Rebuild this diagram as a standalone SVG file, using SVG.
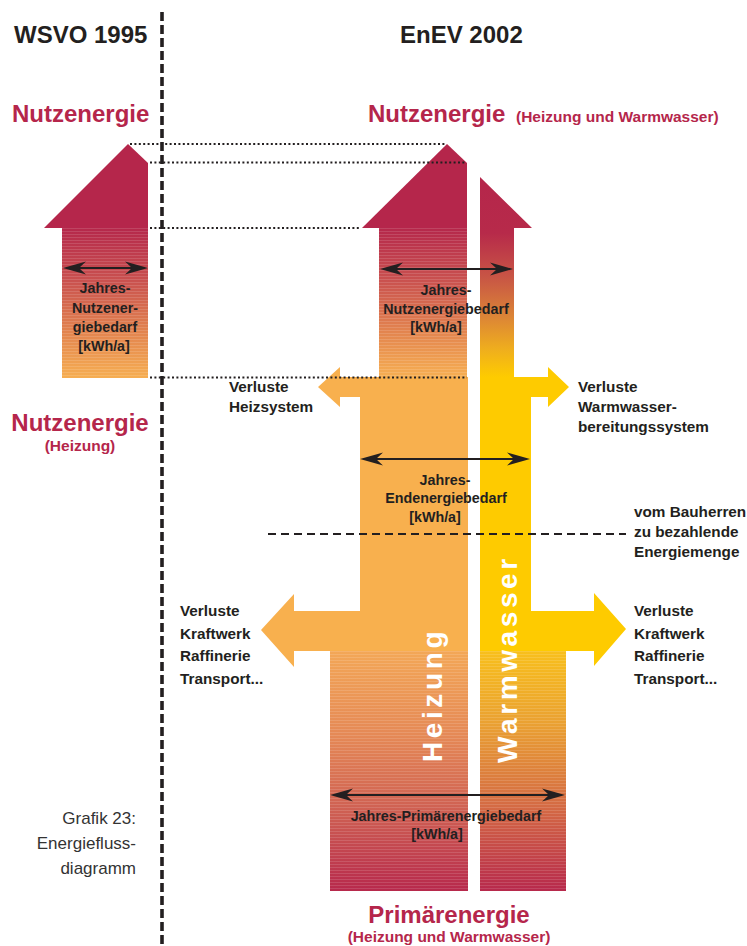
<svg xmlns="http://www.w3.org/2000/svg" width="747" height="946" viewBox="0 0 747 946">
<defs>
<style>
text{font-family:"Liberation Sans",Arial,sans-serif;}
.hd{font-size:24px;font-weight:bold;fill:#231f20;}
.cr{font-size:24px;font-weight:bold;fill:#b5264b;}
.crs{font-size:15.5px;font-weight:bold;fill:#b5264b;}
.in{font-size:14.3px;font-weight:bold;fill:#231f20;text-anchor:middle;}
.out{font-size:15.3px;font-weight:bold;fill:#231f20;}
.vt{font-size:28px;font-weight:bold;fill:#ffffff;letter-spacing:3.6px;}
.cap{font-size:17px;fill:#333333;text-anchor:end;}
.dot{stroke:#231f20;stroke-width:2;stroke-dasharray:2 2.4;fill:none;}
.dbl{stroke:#231f20;stroke-width:2.2;fill:none;marker-start:url(#ah);marker-end:url(#ah);}
.crim{fill:#b5264b;}
.str{fill:url(#stripes);}
</style>
<marker id="ah" viewBox="-28 -8 30 16" refX="-4" refY="0" markerWidth="30" markerHeight="16" markerUnits="userSpaceOnUse" orient="auto-start-reverse">
<path d="M0,0 L-23,-6.5 L-16,0 L-23,6.5 Z" fill="#231f20"/>
</marker>
<pattern id="stripes" width="20" height="3" patternUnits="userSpaceOnUse">
<rect width="20" height="1" fill="#ffffff" fill-opacity="0.13"/>
</pattern>
<linearGradient id="gNutz" x1="0" y1="0" x2="0" y2="1">
<stop offset="0" stop-color="#b5284b"/>
<stop offset="0.35" stop-color="#c9514f"/>
<stop offset="0.7" stop-color="#e3854f"/>
<stop offset="1" stop-color="#f6ae52"/>
</linearGradient>
<linearGradient id="gWWup" gradientUnits="userSpaceOnUse" x1="0" y1="177" x2="0" y2="377">
<stop offset="0" stop-color="#b5264b"/>
<stop offset="0.28" stop-color="#b72a4a"/>
<stop offset="0.5" stop-color="#c85545"/>
<stop offset="0.7" stop-color="#dc8536"/>
<stop offset="0.87" stop-color="#f0b01c"/>
<stop offset="1" stop-color="#fecb00"/>
</linearGradient>
<linearGradient id="gHzLow" x1="0" y1="0" x2="0" y2="1">
<stop offset="0" stop-color="#f3a757"/>
<stop offset="0.35" stop-color="#e58956"/>
<stop offset="0.7" stop-color="#cc5b52"/>
<stop offset="1" stop-color="#b7294c"/>
</linearGradient>
<linearGradient id="gWWLow" x1="0" y1="0" x2="0" y2="1">
<stop offset="0" stop-color="#f8bf1c"/>
<stop offset="0.3" stop-color="#eaa132"/>
<stop offset="0.65" stop-color="#d46a44"/>
<stop offset="1" stop-color="#b7294c"/>
</linearGradient>
</defs>

<rect width="747" height="946" fill="#ffffff"/>

<g id="header-wsvo"><text class="hd" x="14" y="43">WSVO 1995</text></g>
<g id="header-enev"><text class="hd" x="400" y="43">EnEV 2002</text></g>

<g id="label-nutz-left"><text class="cr" x="12" y="122">Nutzenergie</text></g>
<g id="label-nutz-right"><text class="cr" x="368" y="122">Nutzenergie</text><text class="crs" x="516" y="122">(Heizung und Warmwasser)</text></g>

<g id="arrow-wsvo">
<polygon class="crim" points="128,144 148,163 148,228 44,228"/>
<rect x="62" y="228" width="86" height="150" fill="url(#gNutz)"/>
<rect x="62" y="228" width="86" height="150" class="str"/>
<text class="in" x="105" y="293">Jahres-</text>
<text class="in" x="105" y="313">Nutzener-</text>
<text class="in" x="105" y="332">giebedarf</text>
<text class="in" x="104" y="351">[kWh/a]</text>
</g>

<g id="label-nutz-heizung"><text class="cr" x="80" y="431" text-anchor="middle">Nutzenergie</text><text class="crs" x="80" y="451" text-anchor="middle">(Heizung)</text></g>

<g id="arrow-heizung">
<polygon class="crim" points="447,144 467,163 467,228 362,228"/>
<rect x="379" y="228" width="88" height="149" fill="url(#gNutz)"/>
<rect x="379" y="228" width="88" height="149" class="str"/>
<polygon fill="#f8b04e" points="340,367 340,377 468,377 468,651 294,651 294,667 261,630 294,594 294,611 360,611 360,397 340,397 340,407 318,387"/>
<rect x="330" y="651" width="138" height="240" fill="url(#gHzLow)"/>
<rect x="330" y="651" width="138" height="240" class="str"/>
<text class="vt" transform="translate(442,762) rotate(-90)">Heizung</text>
</g>

<g id="arrow-warmwasser">
<polygon fill="url(#gWWup)" points="480,177 532,228 514,228 514,377 480,377"/>
<polygon fill="#fecb00" points="480,377 548,377 548,367 569,387 548,407 548,397 531,397 531,611 594,611 594,593 626,629 594,666 594,651 480,651"/>
<rect x="480" y="651" width="86" height="240" fill="url(#gWWLow)"/>
<rect x="480" y="651" width="86" height="240" class="str"/>
<text class="vt" transform="translate(517,763) rotate(-90)">Warmwasser</text>
</g>

<g id="label-nutzbedarf">
<text class="in" x="446" y="295">Jahres-</text>
<text class="in" x="446" y="314">Nutzenergiebedarf</text>
<text class="in" x="436" y="332">[kWh/a]</text>
</g>

<g id="label-endbedarf">
<text class="in" x="445" y="485">Jahres-</text>
<text class="in" x="446" y="503">Endenergiebedarf</text>
<text class="in" x="435" y="522">[kWh/a]</text>
</g>

<g id="label-primbedarf">
<text class="in" x="446" y="821">Jahres-Primärenergiebedarf</text>
<text class="in" x="437" y="839">[kWh/a]</text>
</g>

<g id="label-verluste-heiz"><text class="out" x="229" y="392">Verluste</text><text class="out" x="229" y="412">Heizsystem</text></g>
<g id="label-verluste-ww"><text class="out" x="578" y="392">Verluste</text><text class="out" x="578" y="412">Warmwasser-</text><text class="out" x="578" y="432">bereitungssystem</text></g>
<g id="label-bauherr"><text class="out" x="634" y="517">vom Bauherren</text><text class="out" x="634" y="537">zu bezahlende</text><text class="out" x="634" y="557">Energiemenge</text></g>
<g id="label-kraftwerk-left"><text class="out" x="180" y="616">Verluste</text><text class="out" x="180" y="638.5">Kraftwerk</text><text class="out" x="180" y="661">Raffinerie</text><text class="out" x="180" y="683.5">Transport...</text></g>
<g id="label-kraftwerk-right"><text class="out" x="634" y="616">Verluste</text><text class="out" x="634" y="638.5">Kraftwerk</text><text class="out" x="634" y="661">Raffinerie</text><text class="out" x="634" y="683.5">Transport...</text></g>

<g id="label-primaer"><text class="cr" x="449" y="923" text-anchor="middle">Primärenergie</text><text class="crs" x="449" y="942" text-anchor="middle">(Heizung und Warmwasser)</text></g>

<g id="caption"><text class="cap" x="136" y="824">Grafik 23:</text><text class="cap" x="136" y="849">Energiefluss-</text><text class="cap" x="136" y="874">diagramm</text></g>

<g id="connectors">
<line x1="162" y1="12" x2="162" y2="946" stroke="#231f20" stroke-width="3.6" stroke-dasharray="9 4"/>
<line class="dot" x1="130" y1="144" x2="446" y2="144"/>
<line class="dot" x1="150" y1="162.5" x2="465" y2="162.5"/>
<line class="dot" x1="150" y1="228" x2="361" y2="228"/>
<line class="dot" x1="150" y1="377.5" x2="467" y2="377.5"/>
<line x1="268" y1="534" x2="626" y2="534" stroke="#231f20" stroke-width="2" stroke-dasharray="8 5"/>
<line class="dbl" x1="67" y1="268" x2="144" y2="268"/>
<line class="dbl" x1="384" y1="269" x2="509" y2="269"/>
<line class="dbl" x1="364" y1="459" x2="526" y2="459"/>
<line class="dbl" x1="334" y1="795" x2="561" y2="795"/>
</g>
</svg>
